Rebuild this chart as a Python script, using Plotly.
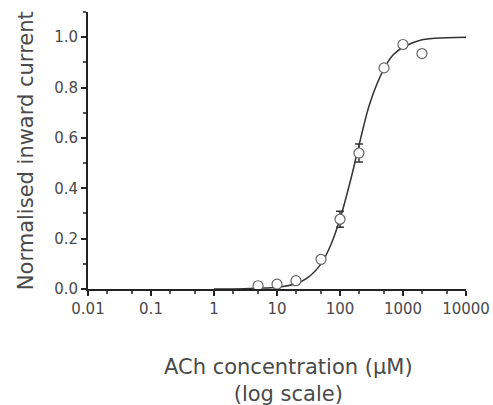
import plotly.graph_objects as go

# Measured data points (ACh concentration in µM, normalised current)
conc = [5, 10, 20, 50, 100, 200, 500, 1000, 2000]
current = [0.013, 0.019, 0.033, 0.118, 0.277, 0.54, 0.878, 0.971, 0.935]
err = [0, 0, 0, 0, 0.032, 0.036, 0, 0, 0]

# Fitted curve
fit_conc = [1, 3, 5, 10, 20, 30, 50, 70, 100, 150, 200, 300, 500, 700, 1000, 2000, 5000, 10000]
fit_current = [0.0, 0.001, 0.003, 0.007, 0.021, 0.043, 0.10, 0.17, 0.278, 0.44, 0.57, 0.74, 0.875, 0.93, 0.96, 0.99, 0.998, 1.0]

x_tickvals = [0.01, 0.1, 1, 10, 100, 1000, 10000]
x_ticktext = ["0.01", "0.1", "1", "10", "100", "1000", "10000"]
y_tickvals = [0.0, 0.2, 0.4, 0.6, 0.8, 1.0]
y_ticktext = ["0.0", "0.2", "0.4", "0.6", "0.8", "1.0"]

FONT = "DejaVu Sans"
TXT = "#4a4a4a"
AX = "#222222"

fig = go.Figure()
fig.add_trace(go.Scatter(
    x=fit_conc, y=fit_current, mode="lines", line=dict(color="#333333", width=1.5, shape="spline"),
    hoverinfo="skip", showlegend=False, cliponaxis=False))
fig.add_trace(go.Scatter(
    x=conc, y=current, mode="markers",
    marker=dict(symbol="circle", size=10, color="white", line=dict(color="#666666", width=1.2)),
    error_y=dict(type="data", array=err, visible=True, color="#333333", thickness=1.5, width=4),
    showlegend=False, cliponaxis=False))

fig.update_layout(
    width=493, height=405,
    margin=dict(l=88, r=27, t=12, b=116),
    paper_bgcolor="white", plot_bgcolor="white",
    font=dict(family=FONT, color=TXT, size=15),
    xaxis=dict(
        type="log", range=[-2, 4], showgrid=False, zeroline=False, automargin=False,
        showline=True, linecolor=AX, linewidth=2,
        tickvals=x_tickvals, ticktext=x_ticktext,
        ticks="outside", ticklen=5, tickwidth=2, tickcolor=AX,
        tickfont=dict(family=FONT, size=15, color=TXT),
        minor=dict(ticks="outside", ticklen=3, tickwidth=1.5, tickcolor="#555555", showgrid=False),
    ),
    yaxis=dict(
        range=[0, 1.1], showgrid=False, zeroline=False, automargin=False,
        showline=True, linecolor=AX, linewidth=2,
        tickvals=y_tickvals, ticktext=y_ticktext,
        ticks="outside", ticklen=5, tickwidth=2, tickcolor=AX,
        tickfont=dict(family=FONT, size=15, color=TXT),
        minor=dict(tickvals=[0.1, 0.3, 0.5, 0.7, 0.9, 1.1], ticks="outside", ticklen=3, tickwidth=1.5,
                   tickcolor="#555555", showgrid=False),
    ),
    annotations=[
        dict(text="ACh concentration (µM)<br>(log scale)", xref="paper", yref="paper",
             x=0.53, y=-0.232, xanchor="center", yanchor="top", showarrow=False,
             font=dict(family=FONT, size=21, color=TXT)),
        dict(text="Normalised inward current", xref="paper", yref="paper",
             x=-0.165, y=0.5, xanchor="center", yanchor="middle", textangle=-90, showarrow=False,
             font=dict(family=FONT, size=21, color=TXT)),
    ],
)

fig.write_html("out.html", config={"displayModeBar": False},
               post_script="document.body.style.margin='0';")
